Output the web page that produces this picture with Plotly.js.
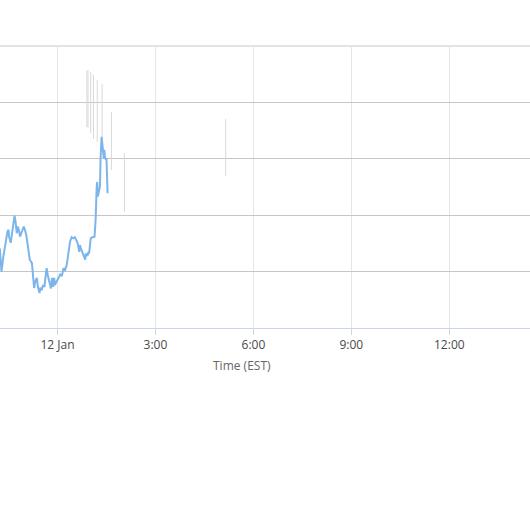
<!DOCTYPE html>
<html>
<head>
<meta charset="utf-8">
<script src="https://cdn.plot.ly/plotly-3.0.1.min.js"></script>
<style>html,body{margin:0;padding:0;background:#fff;}#chart{width:530px;height:529px;}</style>
</head>
<body>
<div id="chart"></div>
<script>
// Main series (blue line)
const seriesTimes = [
"2024-01-11 22:14","2024-01-11 22:17","2024-01-11 22:20","2024-01-11 22:24","2024-01-11 22:25",
"2024-01-11 22:28","2024-01-11 22:30","2024-01-11 22:31","2024-01-11 22:34","2024-01-11 22:36",
"2024-01-11 22:39","2024-01-11 22:41","2024-01-11 22:43","2024-01-11 22:45","2024-01-11 22:47",
"2024-01-11 22:49","2024-01-11 22:51","2024-01-11 22:53","2024-01-11 22:56","2024-01-11 22:58",
"2024-01-11 23:01","2024-01-11 23:03","2024-01-11 23:06","2024-01-11 23:09","2024-01-11 23:13",
"2024-01-11 23:14","2024-01-11 23:16","2024-01-11 23:17","2024-01-11 23:19","2024-01-11 23:22",
"2024-01-11 23:24","2024-01-11 23:27","2024-01-11 23:28","2024-01-11 23:31","2024-01-11 23:33",
"2024-01-11 23:36","2024-01-11 23:38","2024-01-11 23:40","2024-01-11 23:42","2024-01-11 23:44",
"2024-01-11 23:46","2024-01-11 23:48","2024-01-11 23:50","2024-01-11 23:52","2024-01-11 23:54",
"2024-01-11 23:55","2024-01-11 23:58","2024-01-12 00:00","2024-01-12 00:03","2024-01-12 00:05",
"2024-01-12 00:08","2024-01-12 00:11","2024-01-12 00:14","2024-01-12 00:17","2024-01-12 00:20",
"2024-01-12 00:23","2024-01-12 00:26","2024-01-12 00:29","2024-01-12 00:32","2024-01-12 00:35",
"2024-01-12 00:37","2024-01-12 00:40","2024-01-12 00:41","2024-01-12 00:43","2024-01-12 00:46",
"2024-01-12 00:48","2024-01-12 00:51","2024-01-12 00:52","2024-01-12 00:55","2024-01-12 00:57",
"2024-01-12 00:58","2024-01-12 01:01","2024-01-12 01:04","2024-01-12 01:08","2024-01-12 01:10",
"2024-01-12 01:12","2024-01-12 01:13","2024-01-12 01:14","2024-01-12 01:16","2024-01-12 01:18",
"2024-01-12 01:19","2024-01-12 01:20","2024-01-12 01:21","2024-01-12 01:22","2024-01-12 01:24",
"2024-01-12 01:25","2024-01-12 01:26","2024-01-12 01:27","2024-01-12 01:29","2024-01-12 01:30",
"2024-01-12 01:32"
];
const seriesValues = [
14.1,10.0,12.4,15.1,16.0,
17.1,17.4,16.2,15.1,16.8,
18.6,19.9,18.8,16.8,18.0,
17.4,16.2,16.8,17.4,18.0,
17.1,16.2,14.2,12.1,11.5,
10.0,8.0,7.1,8.2,8.9,
7.3,6.2,7.1,6.7,7.6,
7.3,9.1,10.6,9.4,8.5,
8.2,7.0,8.9,7.3,8.9,
7.6,8.2,8.5,9.1,9.5,
9.2,10.6,10.3,11.2,13.3,
15.3,16.1,15.9,16.1,15.6,
15.0,13.5,14.7,14.1,13.2,
12.6,12.1,13.2,12.8,13.5,
13.2,15.9,16.1,16.2,19.1,
25.1,25.9,23.3,24.2,25.1,
29.8,33.3,33.9,33.0,31.0,
30.1,31.6,30.4,29.8,30.1,
23.9
];

// Secondary series (light grey low-high ranges)
const rangeTimes = ["2024-01-12 00:54","2024-01-12 00:56","2024-01-12 01:01","2024-01-12 01:06","2024-01-12 01:13","2024-01-12 01:22","2024-01-12 01:39","2024-01-12 02:03","2024-01-12 05:09"];
const rangeLow  = [35.6, 35.6, 34.6, 33.5, 33.0, 33.3, 28.0, 20.6, 27.0];
const rangeHigh = [45.7, 45.7, 45.4, 44.9, 44.0, 43.3, 38.3, 31.0, 37.1];

// Axis ticks
const tickTimes  = ["2024-01-12 00:00","2024-01-12 03:00","2024-01-12 06:00","2024-01-12 09:00","2024-01-12 12:00"];
const tickLabels = ["12 Jan","3:00","6:00","9:00","12:00"];
const yMax = 50;
const xRange = ["2024-01-11 22:14:18","2024-01-12 14:28:18"];
const xTitle = "Time (EST)";

// build range segments
const rx = [], ry = [];
rangeTimes.forEach((t, i) => { rx.push(t, t, null); ry.push(rangeLow[i], rangeHigh[i], null); });

const traces = [
  { x: rx, y: ry, type: "scatter", mode: "lines", line: {color: "#d9d9d9", width: 1}, hoverinfo: "skip", connectgaps: false },
  { x: seriesTimes, y: seriesValues, type: "scatter", mode: "lines", line: {color: "#7cb5ec", width: 2} }
];

const layout = {
  width: 530, height: 529,
  margin: {l: 0, r: 0, t: 46, b: 201, pad: 0},
  paper_bgcolor: "#ffffff", plot_bgcolor: "#ffffff",
  showlegend: false,
  font: {family: "Open Sans, sans-serif", size: 12, color: "#666666"},
  xaxis: {
    type: "date", range: xRange,
    tickmode: "array", tickvals: tickTimes, ticktext: tickLabels,
    showgrid: true, gridcolor: "#e6e6e6", gridwidth: 1,
    showline: true, linecolor: "#ccd6eb", linewidth: 1,
    ticks: "outside", ticklen: 6, tickcolor: "#ccd6eb", tickwidth: 1,
    tickfont: {family: "Open Sans, sans-serif", size: 12, color: "#4a4a4a"},
    zeroline: false, fixedrange: true
  },
  yaxis: {
    range: [0, yMax], dtick: 10, tick0: 0,
    showgrid: true, gridcolor: "#c6c6c6", gridwidth: 1,
    showticklabels: false, zeroline: false, showline: false, ticks: "", fixedrange: true
  },
  shapes: [{
    type: "line", xref: "paper", yref: "paper", x0: 0, x1: 1, y0: 1, y1: 1,
    line: {color: "#c6c6c6", width: 1}, layer: "below"
  }],
  annotations: [{
    text: xTitle, xref: "paper", yref: "paper", x: 242/530, y: -37/282,
    xanchor: "center", yanchor: "middle", showarrow: false,
    font: {family: "Open Sans, sans-serif", size: 12, color: "#666666"}
  }]
};

Plotly.newPlot("chart", traces, layout, {displayModeBar: false, staticPlot: true});
</script>
</body>
</html>
